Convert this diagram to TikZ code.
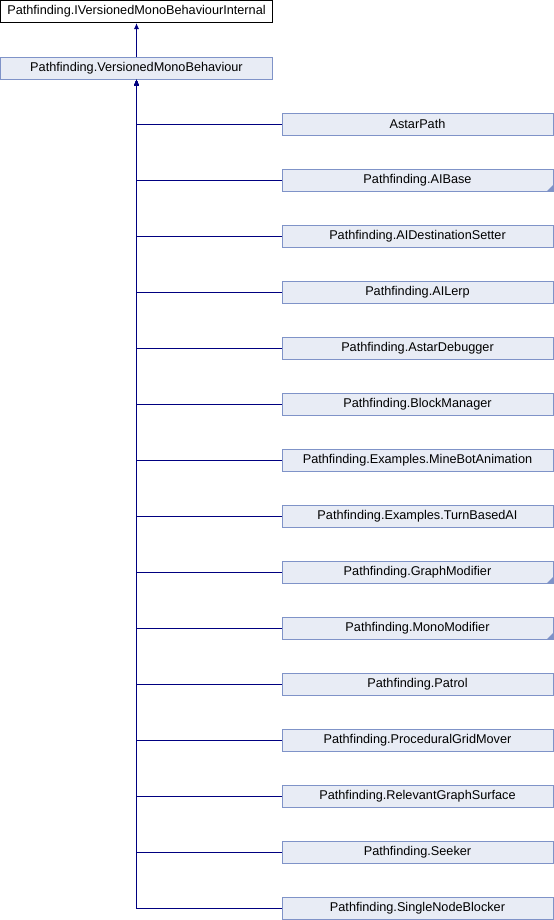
\documentclass[tikz,border=0pt]{standalone}
\usepackage{fontspec}
\setmainfont{Liberation Sans}
\usetikzlibrary{arrows.meta}
\definecolor{boxfill}{HTML}{E8ECF5}
\definecolor{boxline}{HTML}{7F93C8}
\definecolor{conn}{HTML}{000080}
\begin{document}
\begin{tikzpicture}[x=1bp,y=-1bp,
  base/.style={draw=black,fill=white,line width=1bp,minimum width=272bp,minimum height=22bp,inner sep=0pt,font=\fontsize{12.7bp}{14bp}\selectfont},
  cls/.style={draw=boxline,fill=boxfill,line width=1bp,minimum width=272bp,minimum height=22bp,inner sep=0pt,font=\fontsize{12.7bp}{14bp}\selectfont},
  kid/.style={cls,minimum width=271bp},
  conn/.style={draw=conn,line width=1bp,-{Latex[length=6bp,width=5bp]}},
  corner/.style={fill=boxline}
]
\useasboundingbox (0,0) rectangle (554,920);
\fill[white] (0,0) rectangle (554,920);
\node[base] (ivm) at (136.5,11.5) {Pathfinding.IVersionedMonoBehaviourInternal};
\node[cls] (vmb) at (136.5,68) {Pathfinding.VersionedMonoBehaviour};
\draw[conn] (vmb.north) -- (ivm.south);
\foreach \nm/\txt/\k in {
  c1/AstarPath/0,
  c2/Pathfinding.AIBase/1,
  c3/Pathfinding.AIDestinationSetter/2,
  c4/Pathfinding.AILerp/3,
  c5/Pathfinding.AstarDebugger/4,
  c6/Pathfinding.BlockManager/5,
  c7/Pathfinding.Examples.MineBotAnimation/6,
  c8/Pathfinding.Examples.TurnBasedAI/7,
  c9/Pathfinding.GraphModifier/8,
  c10/Pathfinding.MonoModifier/9,
  c11/Pathfinding.Patrol/10,
  c12/Pathfinding.ProceduralGridMover/11,
  c13/Pathfinding.RelevantGraphSurface/12,
  c14/Pathfinding.Seeker/13,
  c15/Pathfinding.SingleNodeBlocker/14}{
  \node[kid] (\nm) at (417.5,{124+56*\k}) {\txt};
  \draw[conn] (\nm.west) -| (vmb.south);
}
\foreach \nm in {c2,c9,c10}{
  \fill[corner] ([xshift=-0.5bp,yshift=0.5bp]\nm.south east) -- ++(-6,0) -- ++(6,-6) -- cycle;
}
\end{tikzpicture}
\end{document}
